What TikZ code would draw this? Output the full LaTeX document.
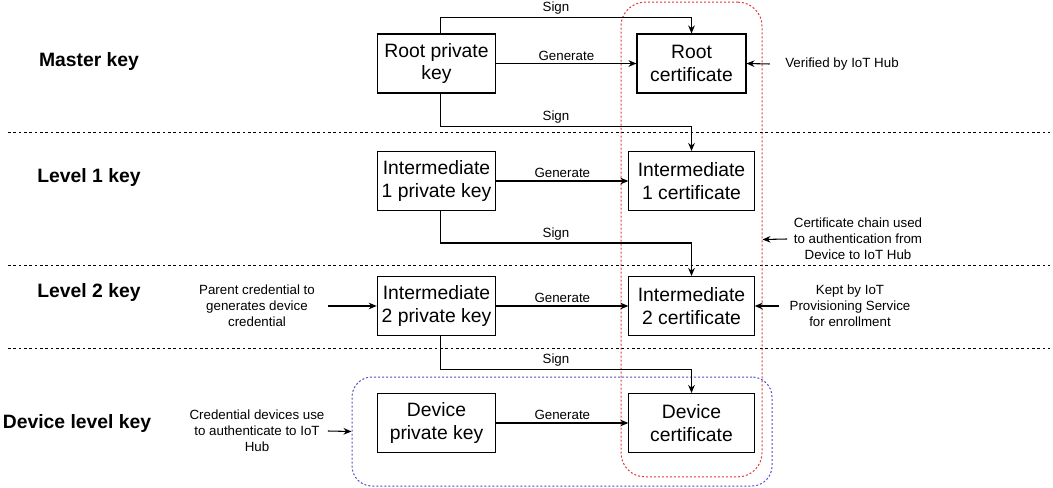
\documentclass[tikz,border=0pt]{standalone}
\usepackage{fontspec}
\setmainfont{Liberation Sans}
\usetikzlibrary{arrows.meta}
\definecolor{chainred}{RGB}{225,55,55}
\definecolor{devblue}{RGB}{80,80,205}

\begin{document}
\begin{tikzpicture}[x=0.75pt,y=-0.75pt,
        keybox/.style={draw, line width=0.8pt, minimum width=89pt, minimum height=44.25pt, align=center, inner sep=1pt, font=\fontsize{14.5}{17}\selectfont},
        certbox/.style={keybox, minimum width=94pt},
        note/.style={align=center, inner sep=2pt, minimum width=106pt, font=\fontsize{10}{12}\selectfont},
        level/.style={font=\fontsize{14.5}{17}\selectfont\bfseries},
        lbl/.style={above, inner sep=2pt, font=\fontsize{10}{12}\selectfont},
        arr/.style={-{Stealth[length=6pt,width=5pt]}, line width=0.8pt},
        sep/.style={dash pattern=on 2pt off 2pt, line width=0.7pt}]
        \useasboundingbox (0,0) rectangle (1053,488);

        % levels
        \node[level] (master) at (89,62) {Master key};
        \node[level] (lvlone) at (89,178) {Level 1 key};
        \node[level] (lvltwo) at (89,293) {Level 2 key};
        \node[level] (lvldev) at (77,423) {Device level key};
        \draw[sep] (8,132) -- (1050,132);
        \draw[sep] (8,265) -- (1050,265);
        \draw[sep] (8,348) -- (1050,348);

        % groups
        \node[draw=chainred, dash pattern=on 1.5pt off 1.5pt, line width=0.75pt, rounded corners=18pt, minimum width=105.75pt, minimum height=356pt] (chain) at (691.5,239.5) {};
        \node[draw=devblue, dash pattern=on 1.5pt off 1.5pt, line width=0.75pt, rounded corners=15pt, minimum width=315pt, minimum height=81.75pt] (devgrp) at (562,431.5) {};

        % keys and certificates
        \node[keybox] (rpk) at (436.5,63.5) {Root private\\key};
        \node[keybox, minimum width=81.75pt] (rc) at (691.5,63.5) {Root\\certificate};
        \node[keybox] (ik1) at (436.5,181) {Intermediate\\1 private key};
        \node[certbox] (ic1) at (691.5,181) {Intermediate\\1 certificate};
        \node[keybox] (ik2) at (436.5,306) {Intermediate\\2 private key};
        \node[certbox] (ic2) at (691.5,306) {Intermediate\\2 certificate};
        \node[keybox] (dk) at (436.5,423) {Device\\private key};
        \node[certbox] (dc) at (691.5,423) {Device\\certificate};

        % notes
        \node[note, minimum width=108pt] (verified) at (842,64) {Verified by IoT Hub};
        \node[note] (chainnote) at (858,239) {Certificate chain used\\to authentication from\\Device to IoT Hub};
        \node[note] (kept) at (850,306) {Kept by IoT\\Provisioning Service\\for enrollment};
        \node[note] (parent) at (257,306) {Parent credential to\\generates device\\credential};
        \node[note] (devnote) at (257,431) {Credential devices use\\to authenticate to IoT\\Hub};

        % generate
        \draw[arr] (rpk) -- node[lbl] {Generate} (rc);
        \draw[arr] (ik1) -- node[lbl] {Generate} (ic1);
        \draw[arr] (ik2) -- node[lbl] {Generate} (ic2);
        \draw[arr] (dk) -- node[lbl] {Generate} (dc);

        % sign
        \draw[arr] ([xshift=3pt]rpk.north) -- ++(0,-16) -| node[lbl, pos=0.23] {Sign} (rc.north);
        \draw[arr] ([xshift=3pt]rpk.south) -- ++(0,33) -| node[lbl, pos=0.23] {Sign} (ic1.north);
        \draw[arr] ([xshift=3pt]ik1.south) -- ++(0,32) -| node[lbl, pos=0.23] {Sign} (ic2.north);
        \draw[arr] ([xshift=3pt]ik2.south) -- ++(0,33) -| node[lbl, pos=0.23] {Sign} (dc.north);

        % note arrows
        \draw[arr] (verified.west) -- (rc.east);
        \draw[arr] (chainnote.west) -- (chain.east);
        \draw[arr] (kept.west) -- (ic2.east);
        \draw[arr] (parent.east) -- (ik2.west);
        \draw[arr] (devnote.east) -- (devgrp.west);
    \end{tikzpicture}
\end{document}
